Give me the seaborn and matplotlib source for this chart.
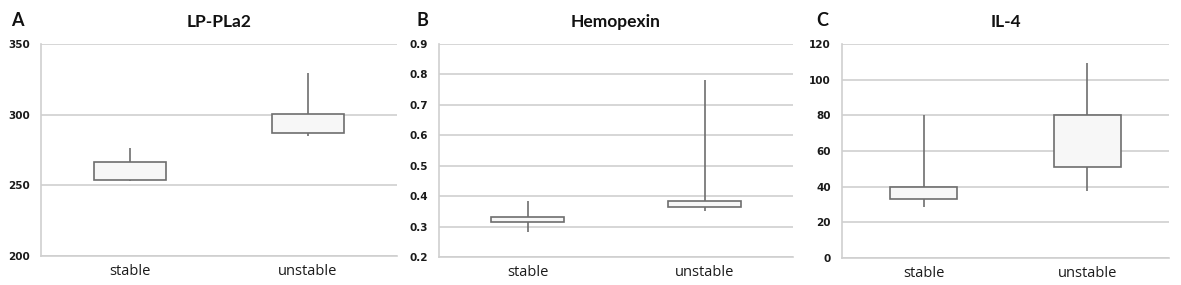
import pandas as pd
import seaborn as sns
import matplotlib.pyplot as plt
import numpy as np

# five-number summaries: whisker low, q1, median, q3, whisker high
groups = ["stable", "unstable"]

lppla2_stable = [252.9, 254.0, 254.0, 266.8, 276.6]
lppla2_unstable = [284.8, 286.7, 286.7, 300.3, 329.4]

hemopexin_stable = [0.282, 0.315, 0.315, 0.331, 0.385]
hemopexin_unstable = [0.352, 0.363, 0.363, 0.385, 0.782]

il4_stable = [28.7, 33.2, 33.2, 39.6, 80.1]
il4_unstable = [37.7, 51.2, 51.2, 80.2, 109.5]

titles = ["LP-PLa2", "Hemopexin", "IL-4"]
letters = ["A", "B", "C"]
yticks = [[200, 250, 300, 350],
          [0.2, 0.3, 0.4, 0.5, 0.6, 0.7, 0.8, 0.9],
          [0, 20, 40, 60, 80, 100, 120]]


def make_frame(stable, unstable):
    return pd.DataFrame({
        "group": ["stable"] * len(stable) + ["unstable"] * len(unstable),
        "value": stable + unstable,
    })


frames = [make_frame(lppla2_stable, lppla2_unstable),
          make_frame(hemopexin_stable, hemopexin_unstable),
          make_frame(il4_stable, il4_unstable)]

sns.set_theme(style="white")
plt.rcParams['font.family'] = ['Open Sans', 'DejaVu Sans']

fig = plt.figure(figsize=(11.81, 2.85), dpi=100)
W, H = 1181, 285
# axes boxes in pixels: left, right, top, bottom
boxes = [(41, 397, 44, 256), (439, 793, 44, 257), (842, 1169, 44, 258)]
letter_x = [11, 416, 816]

grid_col = "#cfcfcf"
box_col = "#6e6e6e"

for i, (l, r, t, b) in enumerate(boxes):
    ax = fig.add_axes([l / W, 1 - b / H, (r - l) / W, (b - t) / H])
    sns.boxplot(
        data=frames[i], x="group", y="value", order=groups, ax=ax,
        whis=(0, 100), width=0.41, color="#f7f7f7", saturation=1,
        linecolor=box_col, linewidth=1.2, showcaps=False, showfliers=False,
        medianprops={"visible": False},
    )
    ax.set_xlim(-0.5, 1.5)
    ax.set_ylim(yticks[i][0], yticks[i][-1])
    ax.set_yticks(yticks[i])
    if i == 1:
        ax.set_yticklabels([f"{v:.1f}" for v in yticks[i]])
    ax.yaxis.grid(True, color=grid_col, linewidth=1.2)
    ax.set_axisbelow(True)
    for side in ["top", "right"]:
        ax.spines[side].set_visible(False)
    for side in ["left", "bottom"]:
        ax.spines[side].set_color(grid_col)
        ax.spines[side].set_linewidth(1.2)
    ax.tick_params(axis="both", length=0)
    ax.tick_params(axis="y", pad=8)
    ax.tick_params(axis="x", pad=6)
    for lab in ax.get_yticklabels():
        lab.set_fontfamily("DejaVu Sans")
        lab.set_fontweight("bold")
        lab.set_fontsize(7.5)
        lab.set_color("#1a1a1a")
    for lab in ax.get_xticklabels():
        lab.set_fontsize(10.5)
        lab.set_color("#1a1a1a")
    ax.set_xlabel("")
    ax.set_ylabel("")
    ax.set_title(titles[i], fontsize=12.5, fontweight="bold", pad=12,
                 color="#111111", family=["Lato", "DejaVu Sans"])
    fig.text(letter_x[i] / W, 1 - 20.5 / H, letters[i], fontsize=13,
             fontweight="bold", va="center", ha="left", color="#111111",
             family=["Lato", "DejaVu Sans"])

fig.savefig("out.png", dpi=100)
